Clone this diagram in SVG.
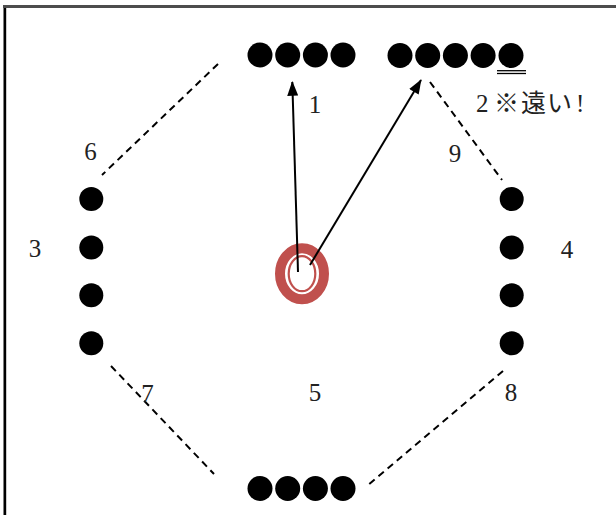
<svg xmlns="http://www.w3.org/2000/svg" width="616" height="515" viewBox="0 0 616 515">
<style>
.dot{fill:#000}
.lbl{font-family:"Liberation Serif","Noto Sans CJK JP",serif;font-size:25px;fill:#222;text-anchor:middle}
.dash{stroke:#000;stroke-width:2;stroke-dasharray:7 5;fill:none}
.arr{stroke:#000;stroke-width:2;fill:none;marker-end:url(#ah)}
</style>
<defs>
<marker id="ah" viewBox="0 0 16 12" refX="15" refY="6" markerWidth="15" markerHeight="11" markerUnits="userSpaceOnUse" orient="auto">
<path d="M0,0 L16,6 L0,12 Z" fill="#000"/>
</marker>
</defs>
<rect x="0" y="0" width="616" height="515" fill="#fff"/>
<rect x="3" y="5" width="613" height="3" fill="#4d4d4d"/>
<rect x="3.5" y="8" width="2.7" height="507" fill="#000"/>

<g id="top-left-seats">
<circle class="dot" cx="260" cy="55" r="12.5"/>
<circle class="dot" cx="287.7" cy="55" r="12.5"/>
<circle class="dot" cx="315.4" cy="55" r="12.5"/>
<circle class="dot" cx="343" cy="55" r="12.5"/>
</g>
<g id="top-right-seats">
<circle class="dot" cx="400" cy="55.5" r="12.5"/>
<circle class="dot" cx="427.7" cy="55.5" r="12.5"/>
<circle class="dot" cx="455.4" cy="55.5" r="12.5"/>
<circle class="dot" cx="483.1" cy="55.5" r="12.5"/>
<circle class="dot" cx="511" cy="55.5" r="12.5"/>
<line x1="497" y1="70.7" x2="526" y2="70.7" stroke="#000" stroke-width="1.3"/>
<line x1="497" y1="73.5" x2="526" y2="73.5" stroke="#000" stroke-width="1.3"/>
</g>
<g id="left-seats">
<circle class="dot" cx="91.3" cy="199" r="12"/>
<circle class="dot" cx="91.3" cy="247.5" r="12"/>
<circle class="dot" cx="91.3" cy="295.3" r="12"/>
<circle class="dot" cx="91.3" cy="343.3" r="12"/>
</g>
<g id="right-seats">
<circle class="dot" cx="511.7" cy="199" r="12"/>
<circle class="dot" cx="511.7" cy="247.5" r="12"/>
<circle class="dot" cx="511.7" cy="295.3" r="12"/>
<circle class="dot" cx="511.7" cy="343.3" r="12"/>
</g>
<g id="bottom-seats">
<circle class="dot" cx="260" cy="488.5" r="12.5"/>
<circle class="dot" cx="287.7" cy="488.5" r="12.5"/>
<circle class="dot" cx="315.4" cy="488.5" r="12.5"/>
<circle class="dot" cx="343" cy="488.5" r="12.5"/>
</g>
<g id="center-target">
<ellipse cx="302" cy="273.7" rx="22" ry="25.5" fill="none" stroke="#c0504d" stroke-width="10"/>
<ellipse cx="302" cy="273.7" rx="13.3" ry="17.5" fill="#fff" stroke="#c0504d" stroke-width="2.2"/>
</g>

<g id="connectors">
<line class="dash" x1="218" y1="64" x2="102" y2="175"/>
<line class="dash" x1="430" y1="82" x2="502" y2="180"/>
<line class="dash" x1="111" y1="366" x2="214" y2="474"/>
<line class="dash" x1="503" y1="371" x2="368" y2="485"/>
<line class="arr" x1="298" y1="272" x2="292.3" y2="82"/>
<line class="arr" x1="310" y1="265" x2="421" y2="80"/>
</g>

<g id="labels">
<text class="lbl" x="315" y="113">1</text>
<text class="lbl" x="35" y="257">3</text>
<text class="lbl" x="567" y="258">4</text>
<text class="lbl" x="315" y="401">5</text>
<text class="lbl" x="90.5" y="160">6</text>
<text class="lbl" x="147.5" y="402">7</text>
<text class="lbl" x="511" y="401">8</text>
<text class="lbl" x="455" y="162">9</text>
<text font-family="'Liberation Serif','Noto Sans CJK JP',serif" font-size="25" fill="#222" x="476 494 521 547 576" y="112">2※遠い!</text>
</g>
</svg>
